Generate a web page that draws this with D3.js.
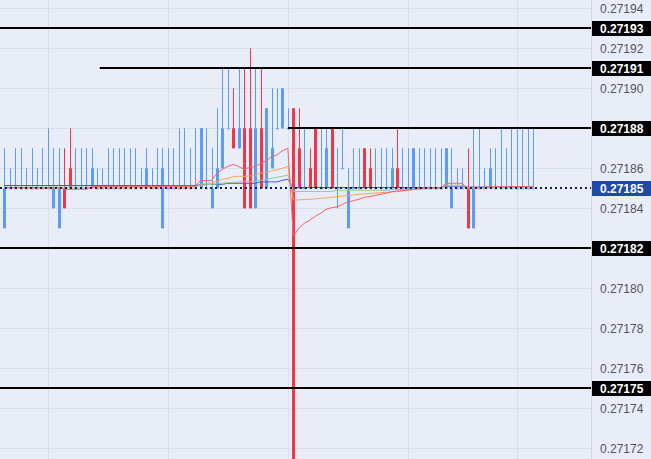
<!DOCTYPE html>
<html><head><meta charset="utf-8">
<script src="https://cdn.jsdelivr.net/npm/d3@7"></script>
<style>html,body{margin:0;padding:0;background:#e9edf8;overflow:hidden}svg{display:block}</style>
</head><body><svg id="c" width="651" height="459"></svg>
<script>
// ---- data (prices) ----
const openP = [0.27183,0.27185,0.27185,0.27185,0.27185,0.27185,0.27185,0.27185,0.27185,0.27184,
 0.27183,0.27185,0.27186,0.27185,0.27185,0.27185,0.27185,0.27185,0.27185,0.27185,
 0.27185,0.27185,0.27185,0.27185,0.27185,0.27185,0.27185,0.27185,0.27185,0.27183,
 0.27185,0.27185,0.27185,0.27185,0.27185,0.27185,0.27185,0.27185,0.27184,0.27185,
 0.27186,0.27188,0.27188,0.27187,0.27188,0.27188,0.27184,0.27188,0.27185,0.27186,
 0.27188,0.27188,0.27188,0.27189,0.27187,0.27185,0.27186,0.27188,0.27185,0.27185,
 0.27188,0.27185,0.27186,0.27183,0.27185,0.27185,0.27187,0.27186,0.27185,0.27185,
 0.27185,0.27185,0.27186,0.27185,0.27185,0.27185,0.27185,0.27185,0.27185,0.27185,
 0.27185,0.27185,0.27184,0.27185,0.27185,0.27185,0.27183,0.27185,0.27185,0.27185,
 0.27185,0.27185,0.27185,0.27185,0.27185,0.27185,0.27185,0.27185];
const highP = [0.27187,0.27186,0.27187,0.27187,0.27186,0.27187,0.27186,0.27187,0.27188,0.27187,
 0.27187,0.27187,0.27188,0.27187,0.27187,0.27187,0.27187,0.27186,0.27186,0.27187,
 0.27187,0.27187,0.27187,0.27187,0.27187,0.27186,0.27187,0.27186,0.27187,0.27187,
 0.27187,0.27187,0.27188,0.27188,0.27187,0.27188,0.27188,0.27188,0.27187,0.27189,
 0.27191,0.27191,0.27190,0.27191,0.27191,0.27192,0.27191,0.27191,0.27189,0.27190,
 0.27190,0.27190,0.27189,0.27189,0.27189,0.27188,0.27187,0.27188,0.27188,0.27188,
 0.27188,0.27187,0.27188,0.27186,0.27187,0.27187,0.27187,0.27187,0.27187,0.27187,
 0.27187,0.27187,0.27188,0.27187,0.27187,0.27187,0.27187,0.27187,0.27187,0.27187,
 0.27187,0.27187,0.27187,0.27186,0.27186,0.27187,0.27188,0.27188,0.27186,0.27187,
 0.27187,0.27188,0.27187,0.27188,0.27188,0.27188,0.27188,0.27188];
const lowP = [0.27183,0.27185,0.27185,0.27185,0.27185,0.27185,0.27185,0.27185,0.27185,0.27184,
 0.27183,0.27184,0.27185,0.27185,0.27185,0.27185,0.27185,0.27185,0.27185,0.27185,
 0.27185,0.27185,0.27185,0.27185,0.27185,0.27185,0.27185,0.27185,0.27185,0.27183,
 0.27185,0.27185,0.27185,0.27185,0.27185,0.27185,0.27185,0.27185,0.27184,0.27185,
 0.27186,0.27188,0.27187,0.27187,0.27184,0.27184,0.27184,0.27185,0.27185,0.27186,
 0.27188,0.27188,0.27188,0.27162,0.27185,0.27185,0.27185,0.27185,0.27185,0.27185,
 0.27185,0.27184,0.27186,0.27183,0.27185,0.27185,0.27185,0.27185,0.27185,0.27185,
 0.27185,0.27185,0.27185,0.27185,0.27185,0.27185,0.27185,0.27185,0.27185,0.27185,
 0.27185,0.27185,0.27184,0.27185,0.27185,0.27183,0.27183,0.27185,0.27185,0.27185,
 0.27185,0.27185,0.27185,0.27185,0.27185,0.27185,0.27185,0.27185];
const closeP = [0.27185,0.27185,0.27185,0.27185,0.27185,0.27185,0.27185,0.27185,0.27185,0.27185,
 0.27185,0.27184,0.27185,0.27185,0.27185,0.27185,0.27186,0.27185,0.27185,0.27185,
 0.27185,0.27185,0.27185,0.27185,0.27185,0.27185,0.27186,0.27185,0.27185,0.27186,
 0.27185,0.27185,0.27185,0.27185,0.27185,0.27185,0.27188,0.27185,0.27185,0.27186,
 0.27188,0.27188,0.27187,0.27188,0.27184,0.27184,0.27188,0.27185,0.27189,0.27187,
 0.27188,0.27190,0.27188,0.27162,0.27185,0.27185,0.27185,0.27185,0.27185,0.27187,
 0.27185,0.27185,0.27186,0.27185,0.27185,0.27185,0.27185,0.27185,0.27185,0.27185,
 0.27185,0.27186,0.27185,0.27185,0.27185,0.27187,0.27185,0.27185,0.27185,0.27185,
 0.27185,0.27187,0.27185,0.27185,0.27185,0.27183,0.27185,0.27185,0.27185,0.27186,
 0.27185,0.27185,0.27185,0.27185,0.27185,0.27185,0.27185,0.27185];

const redMA = [0.2718503,0.2718503,0.2718503,0.2718503,0.2718503,0.2718503,0.2718503,0.2718503,0.2718503,0.2718503,
 0.2718503,0.2718495,0.2718495,0.2718495,0.2718495,0.2718495,0.2718508,0.2718508,0.2718508,0.2718508,
 0.2718508,0.2718508,0.2718508,0.2718508,0.2718508,0.2718508,0.2718508,0.2718508,0.2718508,0.271851,
 0.271851,0.271851,0.271851,0.271851,0.271851,0.271851,0.271854,0.2718538,0.271854,0.2718575,
 0.2718595,0.271861,0.271862,0.2718608,0.2718595,0.2718605,0.2718608,0.2718625,0.2718636,0.2718658,
 0.2718666,0.2718688,0.27187,0.271826,0.27183,0.2718325,0.271834,0.271836,0.2718375,0.2718395,
 0.2718403,0.2718407,0.271842,0.2718432,0.2718438,0.2718445,0.2718455,0.2718458,0.2718465,0.271847,
 0.2718475,0.2718483,0.2718486,0.2718488,0.2718491,0.2718495,0.2718498,0.2718502,0.2718502,0.2718502,
 0.2718502,0.2718525,0.2718525,0.2718525,0.2718525,0.2718495,0.2718503,0.2718503,0.2718503,0.2718508,
 0.2718508,0.2718508,0.2718508,0.2718508,0.2718508,0.2718508,0.2718508,0.2718508];
const orangeMA = [0.2718502,0.2718502,0.2718502,0.2718502,0.2718502,0.2718502,0.2718502,0.2718502,0.2718502,0.2718502,
 0.2718502,0.2718502,0.2718502,0.2718502,0.2718502,0.2718502,0.2718502,0.2718502,0.2718502,0.2718502,
 0.2718502,0.2718502,0.2718502,0.2718502,0.2718502,0.2718502,0.2718502,0.2718502,0.2718502,0.2718502,
 0.2718502,0.2718502,0.2718502,0.2718502,0.2718502,0.2718502,0.271852,0.2718522,0.2718528,0.2718535,
 0.2718545,0.271855,0.2718558,0.271856,0.271856,0.2718562,0.2718565,0.2718575,0.271858,0.2718588,
 0.2718592,0.27186,0.271861,0.2718442,0.2718442,0.2718444,0.2718445,0.2718447,0.271845,0.2718452,
 0.2718455,0.2718458,0.2718462,0.2718465,0.2718467,0.271847,0.2718472,0.2718474,0.2718476,0.2718478,
 0.271848,0.2718482,0.2718484,0.2718487,0.271849,0.2718494,0.2718497,0.27185,0.27185,0.27185,
 0.27185,0.2718515,0.2718515,0.2718515,0.2718515,0.2718502,0.2718504,0.2718504,0.2718504,0.2718504,
 0.2718504,0.2718504,0.2718504,0.2718504,0.2718504,0.2718504,0.2718504,0.2718504];
const greenMA = [0.2718506,0.2718506,0.2718506,0.2718506,0.2718506,0.2718506,0.2718506,0.2718506,0.2718506,0.2718506,
 0.2718506,0.2718506,0.2718506,0.2718506,0.2718506,0.2718506,0.2718506,0.2718506,0.2718506,0.2718506,
 0.2718506,0.2718506,0.2718506,0.2718506,0.2718506,0.2718506,0.2718506,0.2718506,0.2718506,0.2718506,
 0.2718506,0.2718506,0.2718506,0.2718506,0.2718506,0.2718506,0.2718515,0.2718517,0.271852,0.2718522,
 0.2718526,0.2718528,0.271853,0.2718532,0.2718533,0.2718534,0.2718536,0.271854,0.2718545,0.271855,
 0.2718555,0.271856,0.2718566,0.2718484,0.2718484,0.2718484,0.2718484,0.2718484,0.2718484,0.2718484,
 0.2718484,0.271849,0.271849,0.271849,0.271849,0.271849,0.271849,0.271849,0.271849,0.271849,
 0.271849,0.2718494,0.2718494,0.2718494,0.2718494,0.2718494,0.2718494,0.2718498,0.2718498,0.2718498,
 0.2718498,0.2718506,0.2718506,0.2718506,0.2718506,0.2718502,0.2718502,0.2718502,0.2718502,0.2718502,
 0.2718502,0.2718502,0.2718502,0.2718502,0.2718502,0.2718502,0.2718502,0.2718502];
const blueMA = [0.2718514,0.2718514,0.2718514,0.2718514,0.2718514,0.2718514,0.2718514,0.2718514,0.2718514,0.2718514,
 0.2718514,0.2718514,0.2718514,0.2718514,0.2718514,0.2718514,0.2718514,0.2718514,0.2718514,0.2718514,
 0.2718514,0.2718514,0.2718514,0.2718514,0.2718514,0.2718514,0.2718514,0.2718514,0.2718514,0.2718514,
 0.2718514,0.2718514,0.2718514,0.2718514,0.2718514,0.2718514,0.2718518,0.271852,0.271852,0.271852,
 0.271852,0.2718525,0.2718525,0.2718525,0.2718525,0.2718525,0.2718525,0.2718532,0.2718532,0.2718532,
 0.2718532,0.271854,0.2718545,0.2718504,0.2718504,0.2718504,0.2718504,0.2718504,0.2718504,0.2718504,
 0.2718504,0.2718504,0.2718504,0.2718504,0.2718504,0.2718504,0.2718504,0.2718504,0.2718504,0.2718504,
 0.2718504,0.2718504,0.2718504,0.2718504,0.2718504,0.2718504,0.2718504,0.2718504,0.2718504,0.2718504,
 0.2718504,0.271851,0.271851,0.271851,0.271851,0.2718506,0.2718506,0.2718506,0.2718506,0.2718506,
 0.2718506,0.2718506,0.2718506,0.2718506,0.2718506,0.2718506,0.2718506,0.2718506];

const tickValues = [0.27194,0.27192,0.27190,0.27188,0.27186,0.27184,0.27182,0.27180,0.27178,0.27176,0.27174,0.27172];
const levelPrices = [0.27193,0.27191,0.27188,0.27182,0.27175];
const levelStartBar = [null,17.5,52,null,null];
const lastPrice = 0.27185;
const gridBars = [8,30,52,74,94];

// ---- drawing ----
const W = 651, H = 459, plotR = 591;
const svg = d3.select('#c');
const n = openP.length;
const x = d3.scaleLinear().domain([0, n - 1]).range([4.3, 533.3]);
const y = d3.scaleLinear().domain([0.27172, 0.27194]).range([448.3, 8.3]);
const fmt = d3.format('.5f');
const UP = '#5b9cf6', DOWN = '#f23645';

svg.append('rect').attr('width', W).attr('height', H).attr('fill', '#e9edf8');

const grid = svg.append('g');
grid.selectAll('line.h').data(tickValues).join('line')
  .attr('x1', 0).attr('x2', plotR)
  .attr('y1', d => Math.round(y(d)) + 0.5).attr('y2', d => Math.round(y(d)) + 0.5)
  .attr('stroke', '#dadfee').attr('stroke-width', 1);
grid.selectAll('line.v').data(gridBars).join('line')
  .attr('x1', d => Math.round(x(d)) + 0.5).attr('x2', d => Math.round(x(d)) + 0.5)
  .attr('y1', 0).attr('y2', H)
  .attr('stroke', '#dadfee').attr('stroke-width', 1);

const idx = d3.range(n);
const cg = svg.append('g');
idx.forEach(i => {
  const cx = Math.round(x(i));
  const col = closeP[i] >= openP[i] ? UP : DOWN;
  cg.append('rect').attr('x', cx).attr('width', 1)
    .attr('y', y(highP[i])).attr('height', Math.max(1, y(lowP[i]) - y(highP[i])))
    .attr('fill', col);
  const top = y(Math.max(openP[i], closeP[i])), bot = y(Math.min(openP[i], closeP[i]));
  cg.append('rect').attr('x', cx - 1).attr('width', 3)
    .attr('y', top).attr('height', Math.max(1, bot - top))
    .attr('fill', col);
});

const line = d3.line().x((d, i) => x(i)).y(d => y(d));
[[blueMA, '#5050dc'], [greenMA, '#8fcf9a'], [orangeMA, '#f5a55e'], [redMA, '#f2626f']].forEach(([arr, c]) => {
  svg.append('path').datum(arr).attr('d', line).attr('fill', 'none')
    .attr('stroke', c).attr('stroke-width', 1);
});

levelPrices.forEach((p, k) => {
  const yy = Math.round(y(p));
  const x0 = levelStartBar[k] == null ? 0 : x(levelStartBar[k]);
  svg.append('line').attr('x1', x0).attr('x2', plotR).attr('y1', yy).attr('y2', yy)
    .attr('stroke', '#000').attr('stroke-width', 2);
});
svg.append('line').attr('x1', 0).attr('x2', plotR)
  .attr('y1', Math.round(y(lastPrice))).attr('y2', Math.round(y(lastPrice)))
  .attr('stroke', '#131b5e').attr('stroke-width', 2).attr('stroke-dasharray', '2,3');

// axis
svg.append('line').attr('x1', plotR + 0.5).attr('x2', plotR + 0.5).attr('y1', 0).attr('y2', H)
  .attr('stroke', '#d3d8e6');
const ax = svg.append('g').attr('font-family', '"Liberation Sans", Arial, sans-serif').attr('font-size', 12);
ax.selectAll('text.t').data(tickValues).join('text')
  .attr('x', 600).attr('y', d => y(d)).attr('dy', '0.35em')
  .attr('fill', '#50535e').text(d => fmt(d));

function label(p, bg) {
  const yy = y(p);
  ax.append('rect').attr('x', plotR + 1).attr('y', Math.round(yy) - 7).attr('width', W - plotR).attr('height', 15)
    .attr('fill', bg);
  ax.append('text').attr('x', 600).attr('y', yy).attr('dy', '0.35em')
    .attr('fill', '#fff').attr('font-weight', 'bold').text(fmt(p));
}
levelPrices.forEach(p => label(p, '#000'));
label(lastPrice, '#1c4aa6');
</script></body></html>
